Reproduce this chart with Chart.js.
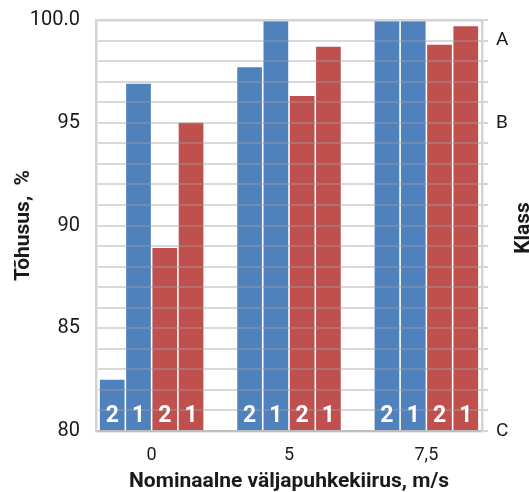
<!DOCTYPE html>
<html>
<head>
<meta charset="utf-8">
<script src="https://cdn.jsdelivr.net/npm/chart.js@4"></script>
<style>
  html, body { margin: 0; padding: 0; background: #ffffff; }
</style>
</head>
<body>
<canvas id="canvas" width="529" height="492"></canvas>
<script>
// kategooriad (nominaalne väljapuhkekiirus)
const xLabels = ["0", "5", "7,5"];
const xIndex = [0, 1, 2];

// tõhusus, %
const blue2 = [82.5, 97.7, 100];
const blue1 = [96.9, 100, 100];
const red2 = [88.9, 96.3, 98.8];
const red1 = [95.0, 98.7, 99.7];
const barNames = ["2", "1", "2", "1"];

// telje märgised
const yTickValues = [80, 85, 90, 95, 100];
const yTickLabels = ["80", "85", "90", "95", "100.0"];
const classValues = [99, 95, 80];
const classLabels = ["A", "B", "C"];

const BLUE = "#4f81bd";
const RED = "#c0504d";
const FONT = "Roboto";

function points(arr) {
    return xIndex.map((x, i) => ({ x: x, y: arr[i] }));
}

function noPad(scale) {
    scale.paddingTop = 0;
    scale.paddingBottom = 0;
    scale.paddingLeft = 0;
    scale.paddingRight = 0;
}

const barText = {
    id: "barText",
    afterDraw(chart) {
        const ctx = chart.ctx;
        const bottom = chart.chartArea.bottom;
        ctx.save();
        ctx.fillStyle = "#ffffff";
        ctx.font = "bold 23px " + FONT;
        ctx.textAlign = "center";
        ctx.textBaseline = "middle";
        chart.data.datasets.forEach((ds, di) => {
            chart.getDatasetMeta(di).data.forEach(bar => {
                ctx.fillText(barNames[di], bar.x, bottom - 15);
            });
        });
        // parema telje pealkiri
        ctx.fillStyle = "#1a1a1a";
        ctx.font = "bold 21px " + FONT;
        ctx.translate(529, 228);
        ctx.rotate(-Math.PI / 2);
        ctx.textAlign = "center";
        ctx.textBaseline = "alphabetic";
        ctx.fillText("Klass", 0, 0);
        ctx.restore();
    }
};

let ctx = document.getElementById("canvas").getContext("2d");

let chart = new Chart(ctx, {
    type: "bar",
    data: {
        datasets: [
            { label: "2", data: points(blue2), backgroundColor: BLUE },
            { label: "1", data: points(blue1), backgroundColor: BLUE },
            { label: "2", data: points(red2), backgroundColor: RED },
            { label: "1", data: points(red1), backgroundColor: RED }
        ]
    },
    options: {
        responsive: false,
        animation: false,
        categoryPercentage: 0.765,
        barPercentage: 0.94,
        layout: { padding: { top: 20, left: 0, right: 0, bottom: 0 } },
        plugins: {
            legend: { display: false },
            tooltip: { enabled: false }
        },
        scales: {
            x: {
                type: "linear",
                offset: false,
                min: -0.405,
                max: 2.405,
                afterBuildTicks: scale => {
                    scale.ticks = xIndex.map(v => ({ value: v }));
                },
                afterFit: scale => { scale.height = 61; noPad(scale); },
                grid: { display: false, drawTicks: false, offset: false },
                border: { display: true, color: "#d3d3d3", width: 2.5, z: 1 },
                ticks: {
                    autoSkip: false,
                    maxRotation: 0,
                    padding: 14,
                    color: "#1a1a1a",
                    font: { family: FONT, size: 18 },
                    callback: v => xLabels[v]
                },
                title: {
                    display: true,
                    text: "Nominaalne väljapuhkekiirus, m/s",
                    color: "#1a1a1a",
                    font: { family: FONT, size: 21, weight: "bold" },
                    padding: { top: 0, bottom: -2 }
                }
            },
            y: {
                position: "left",
                min: 80,
                max: 100,
                afterFit: scale => { scale.width = 96; noPad(scale); },
                grid: {
                    z: 1,
                    drawTicks: false,
                    color: c => c.tick && c.tick.value === 100 ? "#d3d3d3" : "rgba(160,160,160,0.4)",
                    lineWidth: c => c.tick && c.tick.value === 100 ? 2.5 : 2
                },
                border: { display: true, color: "#d3d3d3", width: 2.5, z: 1 },
                ticks: {
                    stepSize: 1,
                    autoSkip: false,
                    padding: 16,
                    color: "#1a1a1a",
                    font: { family: FONT, size: 20 },
                    callback: v => {
                        const i = yTickValues.indexOf(v);
                        return i >= 0 ? yTickLabels[i] : "";
                    }
                },
                title: {
                    display: true,
                    text: "Tõhusus,  %",
                    color: "#1a1a1a",
                    font: { family: FONT, size: 21, weight: "bold" },
                    padding: { top: 11, bottom: 0 }
                }
            },
            y2: {
                position: "right",
                min: 80,
                max: 100,
                afterFit: scale => { scale.width = 47; noPad(scale); },
                grid: {
                    z: 1,
                    drawOnChartArea: false,
                    drawTicks: true,
                    tickLength: 6,
                    color: "#d3d3d3",
                    lineWidth: 2
                },
                border: { display: true, color: "#d3d3d3", width: 2.5, z: 1 },
                ticks: {
                    stepSize: 1,
                    autoSkip: false,
                    padding: 8,
                    color: "#1a1a1a",
                    font: { family: FONT, size: 19 },
                    callback: v => {
                        const i = classValues.indexOf(v);
                        return i >= 0 ? classLabels[i] : "";
                    }
                }
            }
        }
    },
    plugins: [barText]
});
</script>
</body>
</html>
